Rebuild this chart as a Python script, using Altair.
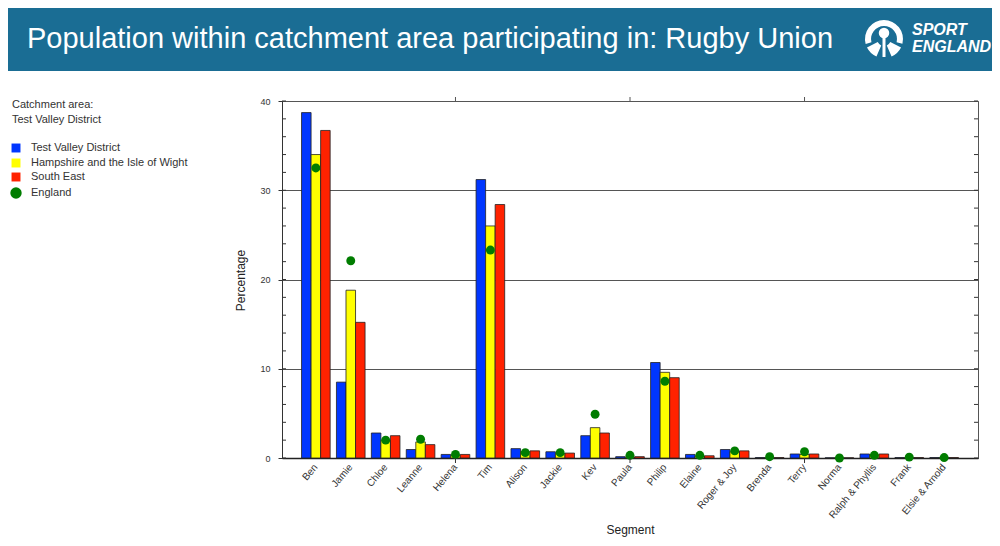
import altair as alt
import pandas as pd

# ---------------- data ----------------
segments = ["Ben", "Jamie", "Chloe", "Leanne", "Helena", "Tim", "Alison", "Jackie",
            "Kev", "Paula", "Philip", "Elaine", "Roger & Joy", "Brenda", "Terry",
            "Norma", "Ralph & Phyllis", "Frank", "Elsie & Arnold"]
series_names = ["Test Valley District", "Hampshire and the Isle of Wight", "South East"]
england_name = "England"

test_valley = [38.7, 8.5, 2.8, 0.95, 0.4, 31.2, 1.05, 0.7, 2.5, 0.15, 10.7, 0.4,
               0.95, 0.05, 0.45, 0.02, 0.45, 0.05, 0.05]
hampshire = [34.0, 18.8, 2.0, 1.8, 0.3, 26.0, 0.7, 0.5, 3.4, 0.1, 9.6, 0.2,
             0.7, 0.03, 0.4, 0.02, 0.35, 0.05, 0.05]
south_east = [36.7, 15.2, 2.5, 1.5, 0.4, 28.4, 0.8, 0.55, 2.8, 0.15, 9.0, 0.25,
              0.8, 0.05, 0.45, 0.02, 0.45, 0.05, 0.05]
england = [32.5, 22.1, 2.0, 2.1, 0.4, 23.3, 0.6, 0.6, 4.9, 0.3, 8.6, 0.3,
           0.8, 0.15, 0.7, 0.0, 0.3, 0.1, 0.05]

y_tick_values = [0, 10, 20, 30, 40]
minor_tick_values = list(range(0, 41, 2))
x_tick_segments = ["Helena", "Paula", "Terry"]

bar_colors = ["#0036ff", "#ffff00", "#ff2200"]
england_color = "#007d00"
banner_color = "#1a6d94"

title_text = "Population within catchment area participating in: Rugby Union"
catchment_lines = ["Catchment  area:", "Test  Valley  District"]

# ---------------- tables ----------------
rows = []
for name, vals in zip(series_names, [test_valley, hampshire, south_east]):
    for seg, v in zip(segments, vals):
        rows.append({"Segment": seg, "series": name, "value": v})
bars_df = pd.DataFrame(rows)
eng_df = pd.DataFrame({"Segment": segments, "value": england})
minor_df = pd.DataFrame({"value": minor_tick_values})
xt_df = pd.DataFrame({"Segment": x_tick_segments})

W, H = 696, 357
FONT = "Liberation Sans"

x_scale = alt.Scale(domain=segments, paddingInner=0.18, paddingOuter=0.56)
y_scale = alt.Scale(domain=[0, 40], nice=False, zero=True)

x_axis = alt.Axis(title="Segment", labelAngle=-50, labelFontSize=10, labelColor="#333",
                  labelPadding=7, ticks=False, domainColor="#222", domainWidth=1.5,
                  titleFontSize=12, titleFontWeight="normal", titleColor="#222",
                  titleY=71, titleBaseline="middle", labelOverlap=False)
y_axis = alt.Axis(title="Percentage", values=y_tick_values, grid=True, gridColor="#555",
                  gridWidth=1, tickSize=4, tickColor="#333", labelFontSize=9,
                  labelColor="#333", labelPadding=8, domainColor="#333",
                  titleFontSize=12, titleFontWeight="normal", titleColor="#222",
                  titleX=-42, titleY=179, titleAngle=270, titleAlign="center",
                  titleBaseline="middle")

bars = alt.Chart(bars_df).mark_bar(stroke="#222", strokeWidth=0.8).encode(
    x=alt.X("Segment:N", scale=x_scale, axis=x_axis),
    xOffset=alt.XOffset("series:N", scale=alt.Scale(domain=series_names, paddingInner=0, paddingOuter=0)),
    y=alt.Y("value:Q", scale=y_scale, axis=y_axis),
    color=alt.Color("series:N", scale=alt.Scale(domain=series_names, range=bar_colors), legend=None),
)

dots = alt.Chart(eng_df).mark_circle(size=80, color=england_color, opacity=1).encode(
    x=alt.X("Segment:N", scale=x_scale),
    y=alt.Y("value:Q", scale=y_scale),
)

minor_left = alt.Chart(minor_df).mark_rule(color="#333", strokeWidth=1).encode(
    y=alt.Y("value:Q", scale=y_scale), x=alt.value(0), x2=alt.value(4))
minor_right = alt.Chart(minor_df).mark_rule(color="#333", strokeWidth=1).encode(
    y=alt.Y("value:Q", scale=y_scale), x=alt.value(W - 4), x2=alt.value(W))

xt_bottom = alt.Chart(xt_df).mark_rule(color="#333").encode(
    x=alt.X("Segment:N", scale=x_scale), y=alt.value(H), y2=alt.value(H + 5))
xt_top = alt.Chart(xt_df).mark_rule(color="#555").encode(
    x=alt.X("Segment:N", scale=x_scale), y=alt.value(-4), y2=alt.value(0))

one = alt.Data(values=[{"k": 1}])

banner = alt.Chart(one).mark_rect(color=banner_color).encode(
    x=alt.value(-274), x2=alt.value(710), y=alt.value(-93), y2=alt.value(-30))
title = alt.Chart(one).mark_text(align="left", baseline="alphabetic", fontSize=29,
                                 color="white", font=FONT).encode(
    x=alt.value(-255), y=alt.value(-53), text=alt.value(title_text))
logo1 = alt.Chart(one).mark_text(align="left", baseline="middle", fontSize=16,
                                 fontWeight="bold", fontStyle="italic", color="white",
                                 font=FONT).encode(
    x=alt.value(630), y=alt.value(-71), text=alt.value("SPORT"))
logo2 = alt.Chart(one).mark_text(align="left", baseline="middle", fontSize=16,
                                 fontWeight="bold", fontStyle="italic", color="white",
                                 font=FONT).encode(
    x=alt.value(630), y=alt.value(-54), text=alt.value("ENGLAND"))
ring = alt.Chart(one).mark_arc(color="white").encode(
    x=alt.value(602), y=alt.value(-62), radius=alt.value(19), radius2=alt.value(13),
    theta=alt.value(4.45), theta2=alt.value(8.1))
leaf_l = alt.Chart(one).mark_arc(color="white").encode(
    x=alt.value(602), y=alt.value(-62), radius=alt.value(19), radius2=alt.value(7),
    theta=alt.value(3.55), theta2=alt.value(4.25))
leaf_r = alt.Chart(one).mark_arc(color="white").encode(
    x=alt.value(602), y=alt.value(-62), radius=alt.value(19), radius2=alt.value(7),
    theta=alt.value(2.03), theta2=alt.value(2.73))
head = alt.Chart(one).mark_circle(color="white", size=110, opacity=1).encode(
    x=alt.value(602), y=alt.value(-68))
stem = alt.Chart(one).mark_rule(color="white", strokeWidth=3).encode(
    x=alt.value(602), y=alt.value(-66), y2=alt.value(-44))

deco = [banner, title, logo1, logo2, ring, leaf_l, leaf_r, head, stem]

# legend (drawn by hand at the left)
for i, line in enumerate(catchment_lines):
    deco.append(alt.Chart(one).mark_text(align="left", baseline="middle", fontSize=11,
                                         color="#333", font=FONT).encode(
        x=alt.value(-270), y=alt.value(4 + 15 * i), text=alt.value(line)))
legend_y = [47, 62, 76, 92]
for name, col, yy in zip(series_names, bar_colors, legend_y[:3]):
    deco.append(alt.Chart(one).mark_square(size=80, color=col, opacity=1).encode(
        x=alt.value(-266), y=alt.value(yy)))
    deco.append(alt.Chart(one).mark_text(align="left", baseline="middle", fontSize=11,
                                         color="#333", font=FONT).encode(
        x=alt.value(-251), y=alt.value(yy), text=alt.value(name)))
deco.append(alt.Chart(one).mark_circle(size=130, color=england_color, opacity=1).encode(
    x=alt.value(-266), y=alt.value(legend_y[3])))
deco.append(alt.Chart(one).mark_text(align="left", baseline="middle", fontSize=11,
                                     color="#333", font=FONT).encode(
    x=alt.value(-251), y=alt.value(legend_y[3]), text=alt.value(england_name)))

chart = alt.layer(bars, dots, minor_left, minor_right, xt_bottom, xt_top, *deco).properties(
    width=W, height=H,
    autosize=alt.AutoSizeParams(type="none"),
    padding={"left": 274, "top": 93, "right": 14, "bottom": 80},
    background="white",
).configure(font=FONT).configure_view(stroke="#555", strokeWidth=1)

chart.save("out.html", embed_options={"renderer": "svg", "actions": False})
